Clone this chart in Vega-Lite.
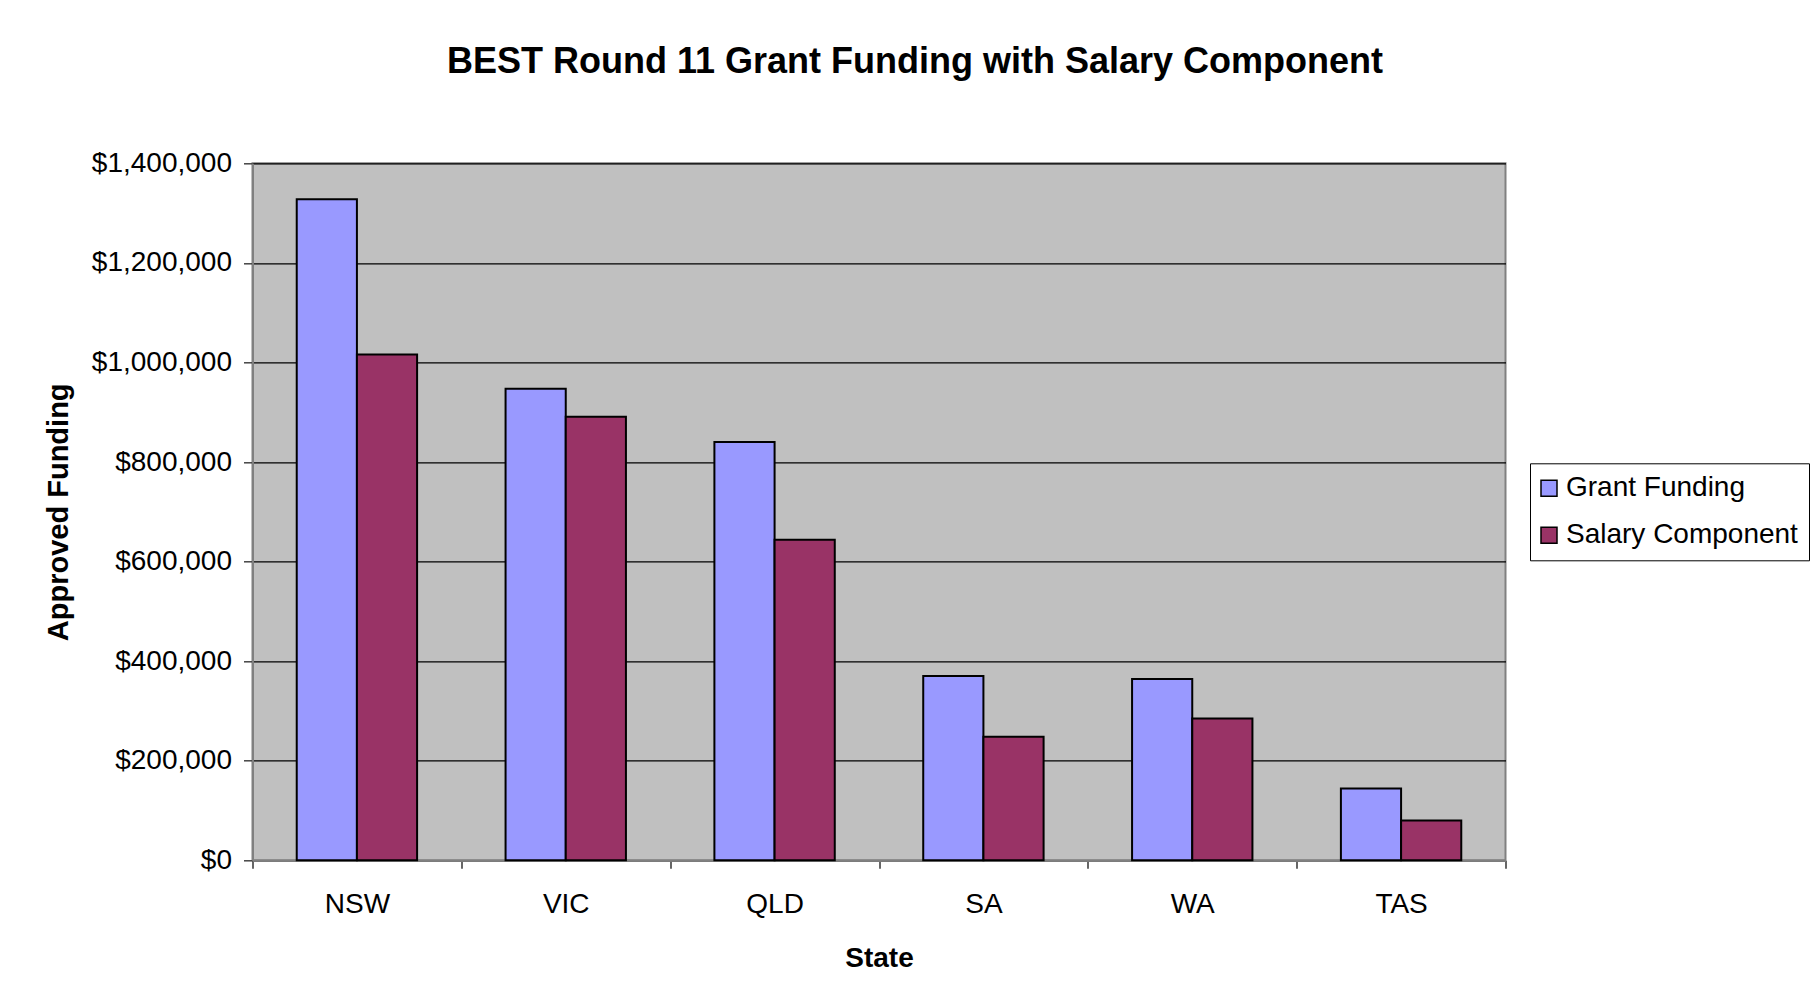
{
  "$schema": "https://vega.github.io/schema/vega-lite/v6.json",
  "autosize": "none",
  "width": 1253,
  "height": 697,
  "padding": {"left": 252.5, "top": 163.3, "right": 310.5, "bottom": 145.7},
  "background": "white",
  "title": {
    "text": "BEST Round 11 Grant Funding with Salary Component",
    "font": "Liberation Sans",
    "fontSize": 36,
    "fontWeight": "bold",
    "color": "black",
    "anchor": "middle",
    "dx": 36,
    "offset": 68
  },
  "data": {
    "values": [
      {"State": "NSW", "Series": "Grant Funding", "Amount": 1328000},
      {"State": "NSW", "Series": "Salary Component", "Amount": 1016000},
      {"State": "VIC", "Series": "Grant Funding", "Amount": 947000},
      {"State": "VIC", "Series": "Salary Component", "Amount": 891000},
      {"State": "QLD", "Series": "Grant Funding", "Amount": 840000},
      {"State": "QLD", "Series": "Salary Component", "Amount": 644000},
      {"State": "SA", "Series": "Grant Funding", "Amount": 370000},
      {"State": "SA", "Series": "Salary Component", "Amount": 248000},
      {"State": "WA", "Series": "Grant Funding", "Amount": 364000},
      {"State": "WA", "Series": "Salary Component", "Amount": 285000},
      {"State": "TAS", "Series": "Grant Funding", "Amount": 144000},
      {"State": "TAS", "Series": "Salary Component", "Amount": 80000}
    ]
  },
  "mark": {"type": "bar", "stroke": "black", "strokeWidth": 2},
  "encoding": {
    "x": {
      "field": "State",
      "type": "nominal",
      "sort": ["NSW", "VIC", "QLD", "SA", "WA", "TAS"],
      "scale": {"paddingInner": 0, "paddingOuter": 0},
      "axis": {
        "title": "State",
        "labelAngle": 0,
        "labelFont": "Liberation Sans",
        "labelFontSize": 28,
        "labelColor": "black",
        "labelPadding": 22,
        "tickBand": "extent",
        "tickSize": 8,
        "tickColor": "#666666",
        "tickWidth": 2,
        "domainColor": "#808080",
        "domainWidth": 2,
        "titleFont": "Liberation Sans",
        "titleFontSize": 28,
        "titleFontWeight": "bold",
        "titleColor": "black",
        "titleBaseline": "alphabetic",
        "titleY": 106,
        "grid": false
      }
    },
    "xOffset": {
      "field": "Series",
      "type": "nominal",
      "scale": {"paddingInner": 0, "paddingOuter": 0.735}
    },
    "y": {
      "field": "Amount",
      "type": "quantitative",
      "scale": {"domain": [0, 1400000], "nice": false},
      "axis": {
        "title": "Approved Funding",
        "values": [0, 200000, 400000, 600000, 800000, 1000000, 1200000, 1400000],
        "format": "$,.0f",
        "labelFont": "Liberation Sans",
        "labelFontSize": 28,
        "labelColor": "black",
        "labelPadding": 12,
        "tickSize": 9,
        "tickColor": "#444444",
        "tickWidth": 1.5,
        "domainColor": "#808080",
        "domainWidth": 2,
        "grid": true,
        "gridColor": "#000000",
        "gridWidth": 1.2,
        "titleFont": "Liberation Sans",
        "titleFontSize": 29,
        "titleFontWeight": "bold",
        "titleColor": "black",
        "titleAngle": -90,
        "titleAlign": "center",
        "titleBaseline": "alphabetic",
        "titleX": -185,
        "titleY": 348.5
      }
    },
    "color": {
      "field": "Series",
      "type": "nominal",
      "scale": {"domain": ["Grant Funding", "Salary Component"], "range": ["#9999FF", "#993366"]},
      "legend": {
        "title": null,
        "orient": "none",
        "legendX": 1277.5,
        "legendY": 300,
        "symbolType": "square",
        "symbolSize": 256,
        "symbolStrokeColor": "black",
        "symbolStrokeWidth": 1.5,
        "symbolOpacity": 1,
        "symbolOffset": -6,
        "labelFont": "Liberation Sans",
        "labelFontSize": 28,
        "labelColor": "black",
        "labelOffset": 3,
        "rowPadding": 19,
        "padding": 11,
        "strokeColor": "black",
        "fillColor": "white",
        "labelLimit": 400
      }
    }
  },
  "config": {
    "view": {"fill": "#C0C0C0", "stroke": "#808080", "strokeWidth": 2}
  }
}
